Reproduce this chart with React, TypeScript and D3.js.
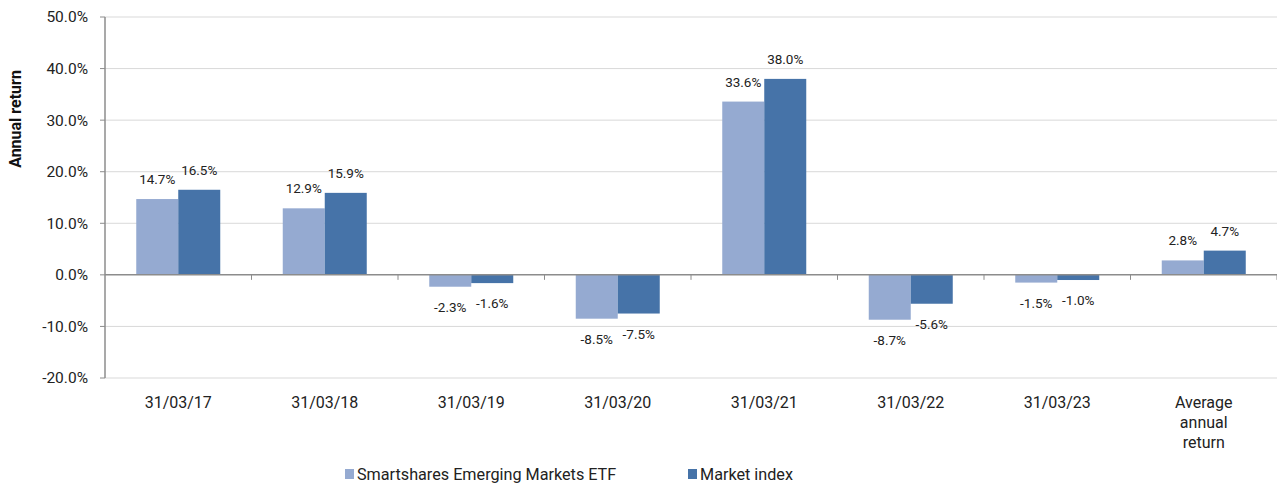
import React from "react";
import * as d3 from "d3";

const categories = ["31/03/17", "31/03/18", "31/03/19", "31/03/20", "31/03/21", "31/03/22", "31/03/23", "Average annual return"];
const etfValues = [14.7, 12.9, -2.3, -8.5, 33.6, -8.7, -1.5, 2.8];
const indexValues = [16.5, 15.9, -1.6, -7.5, 38.0, -5.6, -1.0, 4.7];
const yTicks = [-20, -10, 0, 10, 20, 30, 40, 50];
const seriesNames = ["Smartshares Emerging Markets ETF", "Market index"];

const W = 1277, H = 484;
const left = 105, right = 1277, top = 17, bottom = 378;
const colors = ["#95aad1", "#4673a8"];
const font = "Roboto, 'Liberation Sans', Arial, sans-serif";

export default function App() {
  const y = d3.scaleLinear().domain([-20, 50]).range([bottom, top]);
  const x = d3.scaleBand().domain(categories).range([left, right]).paddingInner(0).paddingOuter(0);
  const inner = d3.scaleBand().domain(["0", "1"]).range([0, 84]);
  const bw = x.bandwidth();
  const series = [etfValues, indexValues];
  return (
    <svg width={W} height={H} style={{ position: "absolute", left: 0, top: 0, background: "#fff" }} fontFamily={font}>
      {yTicks.map((t) => (
        <g key={t}>
          {t !== 0 && <line x1={left} x2={right} y1={y(t)} y2={y(t)} stroke="#d9d9d9" strokeWidth={1} />}
          <line x1={left - 5} x2={left} y1={y(t)} y2={y(t)} stroke="#8c8c8c" />
          <text x={88} y={y(t)} dy="0.35em" textAnchor="end" fontSize={15.5} fill="#222">{t.toFixed(1)}%</text>
        </g>
      ))}
      {categories.map((c, i) => {
        const cx = (x(c) as number) + bw / 2;
        const gx = cx - 42;
        return (
          <g key={c}>
            {series.map((s, j) => {
              const v = s[i];
              const bx = gx + (inner(String(j)) as number);
              const y0 = y(0), y1 = y(v);
              return (
                <g key={j}>
                  <rect x={bx} y={Math.min(y0, y1)} width={inner.bandwidth()} height={Math.abs(y1 - y0)} fill={colors[j]} />
                  <text x={bx + inner.bandwidth() / 2} y={v >= 0 ? y1 - 15 : y1 + 25} textAnchor="middle" fontSize={13.5} fill="#222">
                    {v.toFixed(1)}%
                  </text>
                </g>
              );
            })}
          </g>
        );
      })}
      <line x1={left} x2={right} y1={y(0)} y2={y(0)} stroke="#8c8c8c" strokeWidth={1.5} />
      {categories.map((c, i) => (
        <line key={"t" + i} x1={(x(c) as number) + bw} x2={(x(c) as number) + bw} y1={y(0)} y2={y(0) + 5} stroke="#8c8c8c" />
      ))}
      <line x1={left} x2={left} y1={top} y2={bottom} stroke="#8c8c8c" strokeWidth={1.5} />
      {categories.map((c) => {
        const cx = (x(c) as number) + bw / 2;
        const lines = c === "Average annual return" ? ["Average", "annual", "return"] : [c];
        return (
          <text key={"l" + c} textAnchor="middle" fontSize={16} fill="#222">
            {lines.map((l, k) => (
              <tspan key={k} x={cx} y={408 + k * 20}>{l}</tspan>
            ))}
          </text>
        );
      })}
      <text transform={`translate(21,119) rotate(-90)`} textAnchor="middle" fontSize={16} fontWeight="bold" fill="#111">Annual return</text>
      {seriesNames.map((n, j) => {
        const lx = j === 0 ? 345 : 688;
        return (
          <g key={n}>
            <rect x={lx} y={469} width={9} height={10} fill={colors[j]} />
            <text x={lx + 12} y={480} fontSize={16.2} fill="#222">{n}</text>
          </g>
        );
      })}
    </svg>
  );
}
